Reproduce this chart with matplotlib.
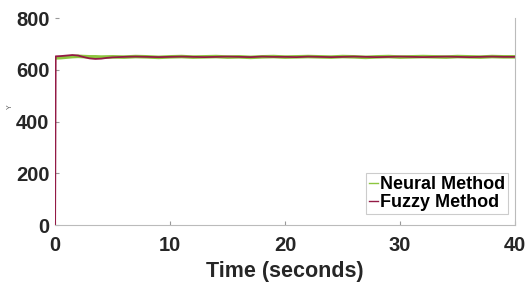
import matplotlib
matplotlib.use("Agg")
import matplotlib.pyplot as plt

# Time samples (seconds) and controller outputs
time_neural = [0.05, 0.5, 1.0, 1.5, 2.0, 2.5, 3.0, 3.5, 4.0, 5, 6, 7, 8, 9, 10,
               11, 12, 13, 14, 15, 16, 17, 18, 19, 20, 21, 22, 23, 24, 25,
               26, 27, 28, 29, 30, 31, 32, 33, 34, 35, 36, 37, 38, 39, 40]
neural = [646, 647, 649, 651, 652, 651, 650, 650, 649, 650, 649, 651, 650, 648, 650,
          651, 649, 650, 651, 649, 650, 648, 650, 651, 649, 650, 651, 650, 649, 651,
          650, 648, 650, 651, 649, 650, 651, 650, 649, 651, 650, 649, 651, 650, 650]

time_fuzzy = [0.0, 0.05, 0.5, 1.0, 1.5, 2.0, 2.5, 3.0, 3.5, 4.0, 4.5, 5, 6, 7, 8, 9, 10,
              11, 12, 13, 14, 15, 16, 17, 18, 19, 20, 21, 22, 23, 24, 25,
              26, 27, 28, 29, 30, 31, 32, 33, 34, 35, 36, 37, 38, 39, 40]
fuzzy = [0, 652, 653, 655, 657, 655, 649, 644, 642, 643, 646, 648, 650, 651, 650, 649, 650,
         651, 650, 649, 650, 651, 650, 649, 651, 650, 650, 649, 651, 650, 649, 650,
         651, 650, 649, 650, 651, 650, 649, 650, 651, 650, 649, 650, 651, 650, 650]

x_ticks = [0, 10, 20, 30, 40]
y_ticks = [0, 200, 400, 600, 800]

plt.rcParams['font.family'] = ['Liberation Sans', 'DejaVu Sans']

fig = plt.figure(figsize=(5.25, 2.86), dpi=100)
ax = fig.add_axes([0.105, 0.213, 0.876, 0.724])

ax.plot(time_neural, neural, color='#8cc63f', linewidth=2.6, label='Neural Method')
ax.plot(time_fuzzy, fuzzy, color='#931a45', linewidth=1.3, label='Fuzzy Method')

ax.set_xlim(0, 40)
ax.set_ylim(0, 800)
ax.set_xticks(x_ticks)
ax.set_yticks(y_ticks)
ax.tick_params(direction='in', length=3, color='#999999', labelsize=14.5)
ax.tick_params(axis='x', pad=8)
ax.tick_params(axis='y', pad=4)
for lbl in ax.get_xticklabels() + ax.get_yticklabels():
    lbl.set_fontweight('bold')
    lbl.set_color('#262626')

ax.spines['top'].set_visible(False)
ax.spines['left'].set_visible(False)
for s in ['right', 'bottom']:
    ax.spines[s].set_color('#bbbbbb')
    ax.spines[s].set_linewidth(0.8)

ax.set_xlabel('Time (seconds)', fontsize=15.5, fontweight='bold', color='#262626', labelpad=4)
# tiny leftover y-label glyph seen at the left edge
fig.text(10 / 525, 1 - 107 / 286, 'Y', fontsize=5, color='#555555', rotation=90,
         ha='center', va='center')

leg = ax.legend(loc='lower right', bbox_to_anchor=(0.985, 0.055),
                prop={'weight': 'bold', 'size': 13}, handlelength=0.5,
                handletextpad=0.15, borderpad=0.15, labelspacing=0.05,
                borderaxespad=0, fancybox=False, edgecolor='#cccccc', framealpha=1)
leg.get_frame().set_linewidth(0.8)
for h in leg.get_lines():
    h.set_linewidth(1.0)

fig.savefig('out.png', dpi=100)
